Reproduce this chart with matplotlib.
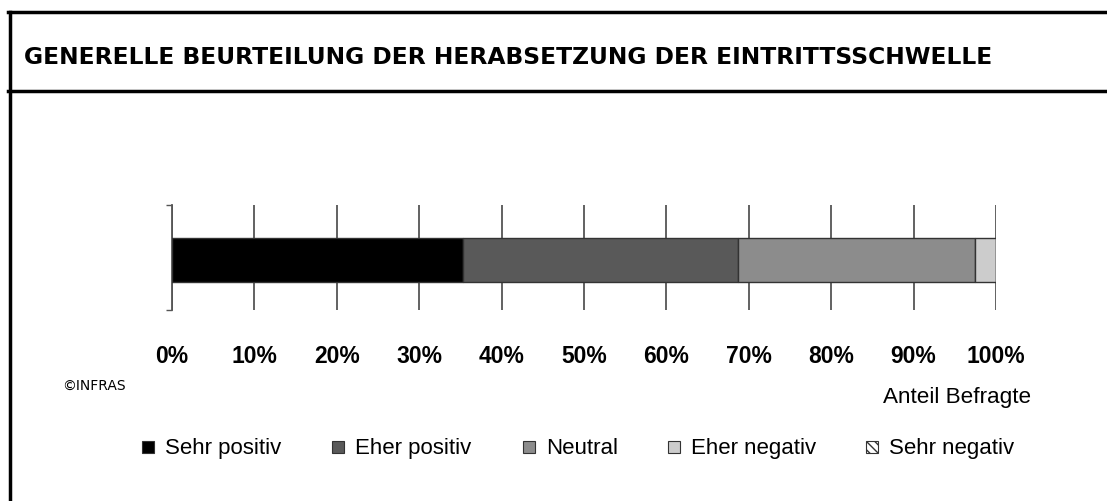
import matplotlib
matplotlib.use("Agg")
import matplotlib.pyplot as plt
from matplotlib.lines import Line2D
from matplotlib.patches import Rectangle

title = "GENERELLE BEURTEILUNG DER HERABSETZUNG DER EINTRITTSSCHWELLE"
categories = ["Sehr positiv", "Eher positiv", "Neutral", "Eher negativ", "Sehr negativ"]
values = [35.3, 33.4, 28.8, 2.5, 0.0]
colors = ["#000000", "#595959", "#8c8c8c", "#cccccc", "#ffffff"]
hatches = [None, None, None, None, "\\\\\\\\"]
ticks = [0, 10, 20, 30, 40, 50, 60, 70, 80, 90, 100]
tick_labels = [f"{t}%" for t in ticks]

W, H = 1107, 501
fig = plt.figure(figsize=(W / 100, H / 100), dpi=100)

# frame lines (left, top, title separator)
fig.add_artist(Line2D([9.5 / W, 9.5 / W], [0, 1 - 11.5 / H], color="black", lw=2.5))
fig.add_artist(Line2D([8.3 / W, 1], [1 - 11.5 / H, 1 - 11.5 / H], color="black", lw=2.5))
fig.add_artist(Line2D([8.3 / W, 1], [1 - 90.5 / H, 1 - 90.5 / H], color="black", lw=2.5))

fig.text(24 / W, 1 - 58 / H, title, fontsize=16.8, fontweight="bold",
         family="DejaVu Sans", va="center", ha="left")

# axes: x 172..996 px, y 205..310 px
ax = fig.add_axes([172 / W, 1 - 310 / H, (996 - 172) / W, 105 / H])
left = 0
for v, c, h in zip(values, colors, hatches):
    ax.barh(0, v, left=left, height=0.42, color=c, edgecolor="#333333",
            linewidth=1, hatch=h, zorder=3)
    left += v

ax.set_xlim(0, 100)
ax.set_ylim(-0.476, 0.524)
ax.set_xticks(ticks)
ax.set_xticklabels(tick_labels, fontsize=16.5, fontweight="bold", family="Liberation Sans")
ax.tick_params(axis="x", length=0, pad=25)
ax.set_yticks([-0.476, 0.524])
ax.set_yticklabels([])
ax.tick_params(axis="y", length=4, width=1, color="#555555")
ax.xaxis.grid(True, color="#555555", linewidth=1.3, zorder=0)
for s in ["top", "right", "bottom"]:
    ax.spines[s].set_visible(False)
ax.spines["left"].set_color("#555555")
ax.spines["left"].set_linewidth(1.3)

fig.text(62 / W, 1 - 386 / H, "©INFRAS", fontsize=10, family="Liberation Sans Narrow",
         va="center", ha="left")
fig.text(1031 / W, 1 - 398 / H, "Anteil Befragte", fontsize=16.2, family="Liberation Sans",
         va="center", ha="right")

# legend entries laid out like the original (square + label)
legend_x = [142, 332, 523, 668, 866]
for x, c, h, lab in zip(legend_x, colors, hatches, categories):
    fig.add_artist(Rectangle((x / W, 1 - 453 / H), 12 / W, 12 / H, facecolor=c,
                             edgecolor="#333333", hatch=h, lw=0.8))
    fig.text((x + 23) / W, 1 - 454 / H, lab, fontsize=16, family="Liberation Sans",
             va="baseline", ha="left")

fig.savefig("out.png", dpi=100)
